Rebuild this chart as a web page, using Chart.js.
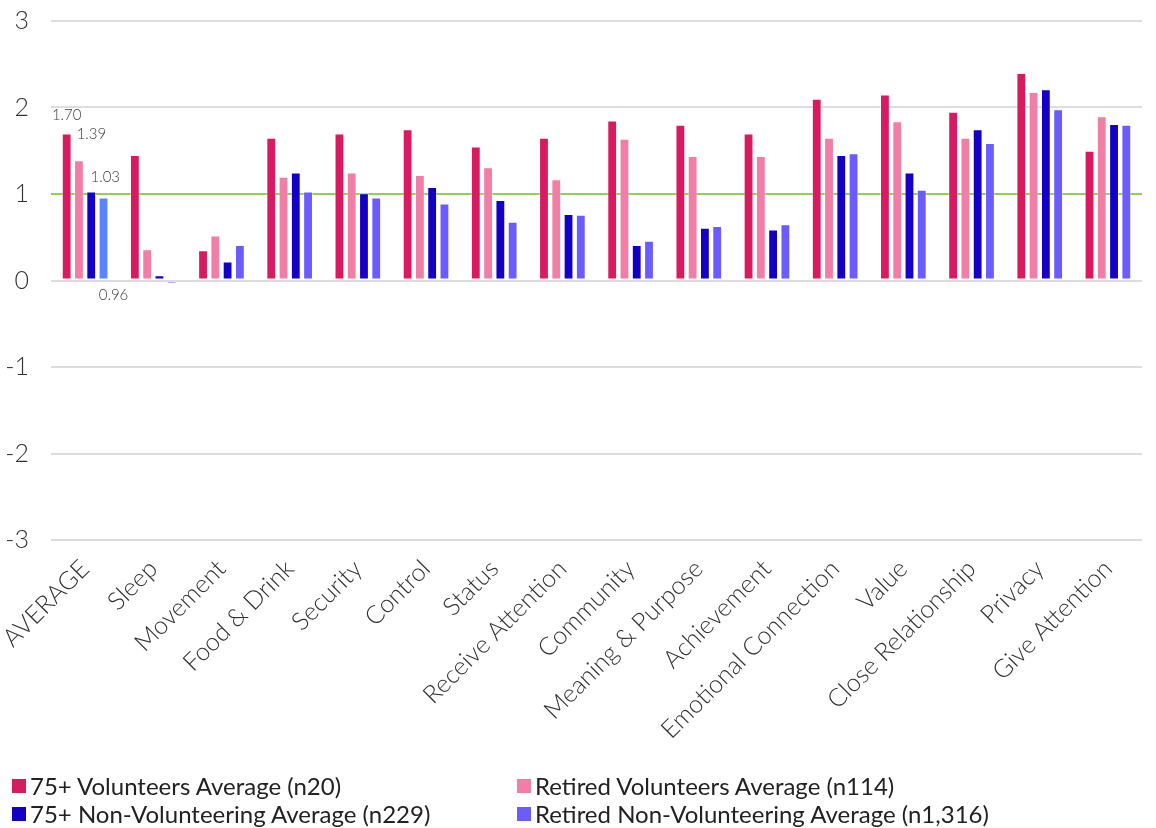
<!DOCTYPE html>
<html>
<head>
<meta charset="utf-8">
<script src="https://cdn.jsdelivr.net/npm/chart.js@4/dist/chart.umd.min.js"></script>
<style>
  html, body { margin: 0; padding: 0; background: #ffffff; }
  #wrap { position: relative; width: 1156px; height: 828px; }
  #chart { position: absolute; left: 0; top: 0; }
  #legend {
    position: absolute; left: 12px; top: 772px; width: 1140px;
    display: grid; grid-template-columns: 505px 600px; row-gap: 1px;
    font-family: Lato, "Open Sans", sans-serif; font-size: 24px; color: #222;
  }
  .item { display: flex; align-items: center; height: 27px; white-space: nowrap; }
  .box { width: 14px; height: 14px; margin-right: 4px; flex: none; }
</style>
</head>
<body>
<div id="wrap">
  <canvas id="chart" width="1156" height="828"></canvas>
  <div id="legend"></div>
</div>
<script>
// Needs categories
const categories = [
  'AVERAGE', 'Sleep', 'Movement', 'Food & Drink', 'Security', 'Control', 'Status',
  'Receive Attention', 'Community', 'Meaning & Purpose', 'Achievement',
  'Emotional Connection', 'Value', 'Close Relationship', 'Privacy', 'Give Attention'
];

// Average scores per group
const volunteers75 =       [1.70, 1.45, 0.35, 1.65, 1.70, 1.75, 1.55, 1.65, 1.85, 1.80, 1.70, 2.10, 2.15, 1.95, 2.40, 1.50];
const retiredVolunteers =  [1.39, 0.36, 0.52, 1.20, 1.25, 1.22, 1.31, 1.17, 1.64, 1.44, 1.44, 1.65, 1.84, 1.65, 2.18, 1.90];
const nonVolunteering75 =  [1.03, 0.06, 0.22, 1.25, 1.01, 1.08, 0.93, 0.77, 0.41, 0.61, 0.59, 1.45, 1.25, 1.75, 2.21, 1.81];
const retiredNonVolunteering = [0.96, -0.04, 0.41, 1.03, 0.96, 0.89, 0.68, 0.76, 0.46, 0.63, 0.65, 1.47, 1.05, 1.59, 1.98, 1.80];

const seriesNames = [
  '75+ Volunteers Average (n20)',
  'Retired Volunteers Average (n114)',
  '75+ Non-Volunteering Average (n229)',
  'Retired Non-Volunteering Average (n1,316)'
];

const yTicks = [-3, -2, -1, 0, 1, 2, 3];

const seriesColors = ['#d81b60', '#f07ea6', '#1400c4', '#6a5cff'];
const legendColors = ['#d81b60', '#f07ea6', '#1400c4', '#6a5cff'];
// the overall average of the last group is shown in a lighter blue
const lastSeriesColors = categories.map((c, i) => i === 0 ? '#5b84ff' : '#6a5cff');

const LIGHT = 'Lato, "Open Sans", sans-serif';

// value labels on the AVERAGE group: [anchor, dx, dy]
const labelPlacement = [
  ['top', 0, -18],
  ['top', 12.5, -26],
  ['top', 14, -14],
  ['base', 10, 16]
];

const averageLabels = {
  id: 'averageLabels',
  afterDatasetsDraw(chart) {
    const ctx = chart.ctx;
    ctx.save();
    ctx.font = '300 15px ' + LIGHT;
    ctx.fillStyle = '#404040';
    ctx.textAlign = 'center';
    ctx.textBaseline = 'middle';
    chart.data.datasets.forEach((ds, di) => {
      const bar = chart.getDatasetMeta(di).data[0];
      const [anchor, dx, dy] = labelPlacement[di];
      const y = (anchor === 'top' ? bar.y : bar.base) + dy;
      ctx.fillText(ds.data[0].toFixed(2), bar.x + dx, y);
    });
    ctx.restore();
  }
};

const datasets = [volunteers75, retiredVolunteers, nonVolunteering75, retiredNonVolunteering].map((vals, i) => ({
  label: seriesNames[i],
  data: vals,
  backgroundColor: i === 3 ? lastSeriesColors : seriesColors[i],
  borderColor: 'rgba(255,255,255,0.45)',
  borderWidth: 1,
  borderSkipped: false,
  categoryPercentage: 0.72,
  barPercentage: 0.8
}));

const chart = new Chart(document.getElementById('chart'), {
  type: 'bar',
  data: { labels: categories, datasets },
  options: {
    responsive: false,
    maintainAspectRatio: false,
    animation: false,
    layout: { padding: { top: 21, right: 14, left: 0, bottom: 0 } },
    plugins: {
      legend: { display: false },
      tooltip: { enabled: false }
    },
    scales: {
      x: {
        grid: { display: false, drawTicks: false },
        border: { display: false },
        ticks: {
          minRotation: 45, maxRotation: 45, autoSkip: false, padding: 14,
          color: '#333333',
          font: { family: LIGHT, size: 25, weight: '300' }
        },
        afterFit(scale) {
          scale.height = 288;
          scale.paddingLeft = 0;
          scale.paddingRight = 0;
        }
      },
      y: {
        min: -3, max: 3,
        afterBuildTicks(scale) { scale.ticks = yTicks.map(v => ({ value: v })); },
        grid: {
          drawTicks: false,
          lineWidth: 2,
          color: ctx => ctx.tick && ctx.tick.value === 1 ? '#92d050' : '#dddddd'
        },
        border: { display: false },
        ticks: {
          padding: 22,
          color: '#333333',
          font: { family: LIGHT, size: 25, weight: '300' }
        },
        afterFit(scale) {
          scale.width = 51;
          scale.paddingTop = 0;
          scale.paddingBottom = 0;
        }
      }
    }
  },
  plugins: [averageLabels]
});

// legend built from the chart's datasets
const legendEl = document.getElementById('legend');
chart.data.datasets.forEach((ds, i) => {
  const item = document.createElement('div');
  item.className = 'item';
  const box = document.createElement('span');
  box.className = 'box';
  box.style.background = legendColors[i];
  const txt = document.createElement('span');
  txt.textContent = ds.label;
  item.appendChild(box);
  item.appendChild(txt);
  legendEl.appendChild(item);
});
</script>
</body>
</html>
